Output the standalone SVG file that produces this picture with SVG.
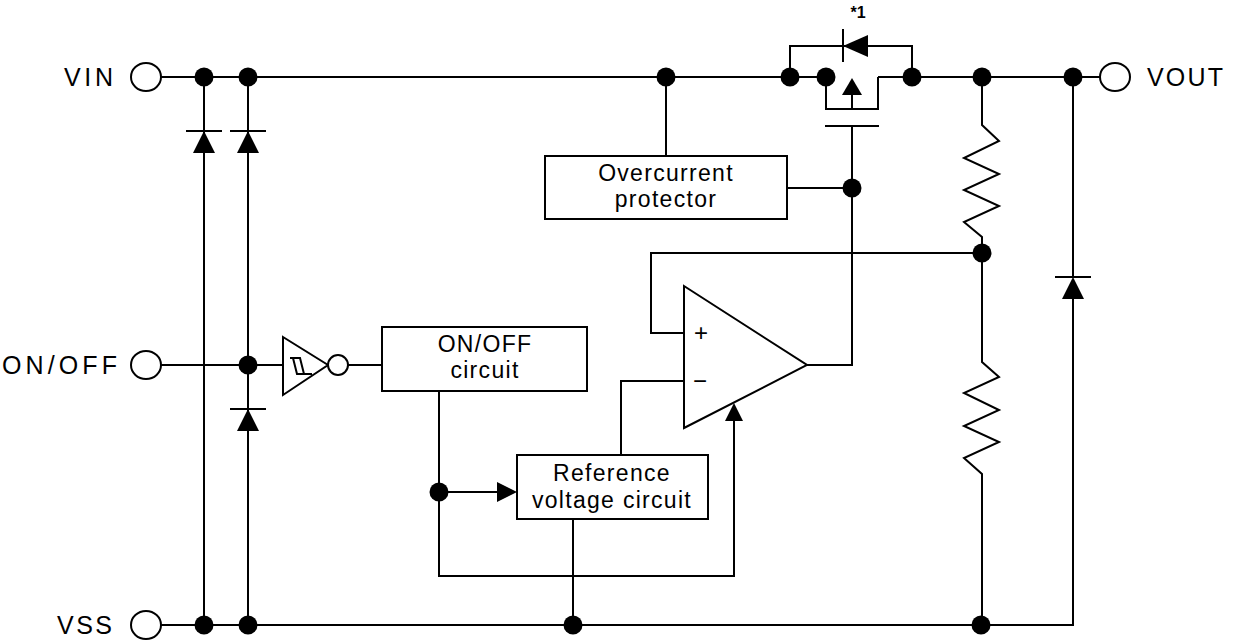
<svg xmlns="http://www.w3.org/2000/svg" width="1240" height="642" viewBox="0 0 1240 642">
<defs>
<style>
.w{fill:none;stroke:#000;stroke-width:2;stroke-linejoin:miter}
.f{fill:#000;stroke:none}
.box{fill:#fff;stroke:#000;stroke-width:2}
.term{fill:#fff;stroke:#000;stroke-width:2}
.lbl{font-family:"Liberation Sans",Arial,sans-serif;font-size:25px;fill:#000}
.bt{font-family:"Liberation Sans",Arial,sans-serif;font-size:23px;letter-spacing:1.3px;fill:#000;text-anchor:middle}
.sym{font-family:"Liberation Sans",Arial,sans-serif;font-size:24px;fill:#000;text-anchor:middle}
</style>
<g id="diodeUp">
<line class="w" x1="-18" y1="0" x2="18" y2="0"/>
<polygon class="f" points="0,0 -11,22 11,22"/>
</g>
</defs>
<rect width="1240" height="642" fill="#fff"/>

<g id="connectors">
<path class="w" d="M161,77 H826 M878,77 H1100"/>
<path class="w" d="M161,625 H1073 V299 M1073,277 V77"/>
<path class="w" d="M161,365 H283 M348,365 H382"/>
<path class="w" d="M204,77 V625 M248,77 V625"/>
<path class="w" d="M666,77 V156 M787,188 H852"/>
<path class="w" d="M790,77 V46 H912 V77"/>
<path class="w" d="M826,77 V109 H878 V77 M852,95 V109"/>
<path class="w" d="M852,126 V365 H807"/>
<path class="w" d="M982,253 H651 V333 H684"/>
<path class="w" d="M684,381 H621 V455"/>
<path class="w" d="M439,391 V576 H734 V421"/>
<path class="w" d="M439,492 H500"/>
<polygon class="f" points="517,492 497,482 497,502"/>
<polygon class="f" points="734,403 725,421 743,421"/>
<path class="w" d="M573,519 V625"/>
<path class="w" d="M982,77 V125 L999,141 L964,158 L999,174 L964,190 L999,206 L964,222 L982,237 V253"/>
<path class="w" d="M982,253 V362 L999,377 L964,393 L999,410 L964,426 L999,442 L964,458 L982,474 V625"/>
</g>

<g id="junctions">
<circle class="f" cx="204" cy="77" r="9.5"/>
<circle class="f" cx="248" cy="77" r="9.5"/>
<circle class="f" cx="666" cy="77" r="9.5"/>
<circle class="f" cx="790" cy="77" r="9.5"/>
<circle class="f" cx="826" cy="77" r="9.5"/>
<circle class="f" cx="912" cy="77" r="9.5"/>
<circle class="f" cx="982" cy="77" r="9.5"/>
<circle class="f" cx="1073" cy="77" r="9.5"/>
<circle class="f" cx="852" cy="188" r="9.5"/>
<circle class="f" cx="982" cy="253" r="9.5"/>
<circle class="f" cx="248" cy="365" r="9.5"/>
<circle class="f" cx="439" cy="492" r="9.5"/>
<circle class="f" cx="204" cy="625" r="9.5"/>
<circle class="f" cx="248" cy="625" r="9.5"/>
<circle class="f" cx="573" cy="625" r="9.5"/>
<circle class="f" cx="981" cy="625" r="9.5"/>
</g>

<g id="vin">
<ellipse class="term" cx="146" cy="77" rx="15" ry="14"/>
<text class="lbl" x="64" y="86" textLength="49" lengthAdjust="spacing">VIN</text>
</g>
<g id="onoff-pin">
<ellipse class="term" cx="146" cy="365" rx="15" ry="14"/>
<text class="lbl" x="2" y="374" textLength="115" lengthAdjust="spacing">ON/OFF</text>
</g>
<g id="vss">
<ellipse class="term" cx="146" cy="625" rx="15" ry="14"/>
<text class="lbl" x="57" y="634" textLength="55" lengthAdjust="spacing">VSS</text>
</g>
<g id="vout">
<ellipse class="term" cx="1115" cy="77" rx="15" ry="14"/>
<text class="lbl" x="1147" y="86" textLength="76" lengthAdjust="spacing">VOUT</text>
</g>

<g id="diode1"><use href="#diodeUp" x="204" y="131"/></g>
<g id="diode2"><use href="#diodeUp" x="248" y="131"/></g>
<g id="diode3"><use href="#diodeUp" x="248" y="409"/></g>
<g id="diode4"><use href="#diodeUp" x="1073" y="277"/></g>

<g id="mosfet">
<line class="w" x1="843" y1="29" x2="843" y2="62"/>
<polygon class="f" points="843,46 868,35 868,57"/>
<polygon class="f" points="852,78 842,95 862,95"/>
<line class="w" x1="825" y1="126" x2="879" y2="126"/>
<text x="858" y="18" font-family="Liberation Sans, Arial, sans-serif" font-size="16" font-weight="bold" text-anchor="middle">*1</text>
</g>

<g id="overcurrent">
<rect class="box" x="545" y="156" width="242" height="63"/>
<text class="bt" x="666" y="181">Overcurrent</text>
<text class="bt" x="666" y="207">protector</text>
</g>

<g id="inverter">
<polygon class="box" points="283,337 328,365 283,395"/>
<circle class="term" cx="338" cy="365" r="10"/>
<path class="w" d="M290,358 H300 L304,374 M293,358 L297,374 H312" stroke-width="1.8"/>
</g>

<g id="onoff-circuit">
<rect class="box" x="382" y="327" width="205" height="64"/>
<text class="bt" x="485" y="352">ON/OFF</text>
<text class="bt" x="485" y="378">circuit</text>
</g>

<g id="reference">
<rect class="box" x="517" y="455" width="191" height="64"/>
<text class="bt" x="612" y="481">Reference</text>
<text class="bt" x="612" y="508">voltage circuit</text>
</g>

<g id="opamp">
<polygon class="box" points="684,286 807,365 684,428"/>
<text class="sym" x="701" y="341">+</text>
<text class="sym" x="700" y="389">−</text>
</g>
</svg>
